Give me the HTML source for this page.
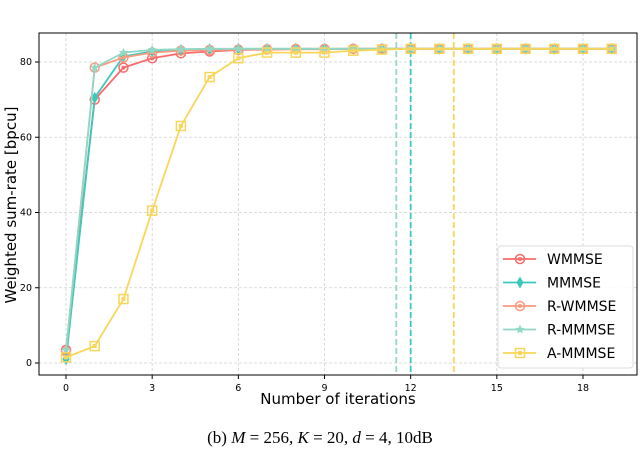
<!DOCTYPE html>
<html><head><meta charset="utf-8"><style>
body{margin:0;background:#fff;width:640px;height:449px;overflow:hidden}
svg text{font-family:"DejaVu Sans","Liberation Sans",sans-serif}
</style></head><body>
<svg id="chart" width="640" height="449" xmlns="http://www.w3.org/2000/svg"></svg>
<script>
const iterations=[0,1,2,3,4,5,6,7,8,9,10,11,12,13,14,15,16,17,18,19];
const wmmse=[3.5,70,78.5,81,82.3,82.8,83.2,83.3,83.4,83.4,83.5,83.5,83.5,83.5,83.5,83.5,83.5,83.5,83.5,83.5];
const mmmse=[1,70.5,81.5,82.8,83.2,83.4,83.5,83.5,83.5,83.5,83.5,83.5,83.5,83.5,83.5,83.5,83.5,83.5,83.5,83.5];
const rwmmse=[3,78.5,81.2,82.5,83,83.2,83.3,83.4,83.5,83.5,83.5,83.5,83.5,83.5,83.5,83.5,83.5,83.5,83.5,83.5];
const rmmmse=[3.5,78.5,82.5,83.2,83.4,83.5,83.5,83.5,83.5,83.5,83.5,83.5,83.5,83.5,83.5,83.5,83.5,83.5,83.5,83.5];
const ammmse=[1.5,4.5,17,40.5,63,76,81,82.5,82.5,82.5,83,83.3,83.5,83.5,83.5,83.5,83.5,83.5,83.5,83.5];
const xTicks=[0,3,6,9,12,15,18];
const yTicks=[0,20,40,60,80];
const vlines=[11.5,12,13.5];
const seriesNames=["WMMSE","MMMSE","R-WMMSE","R-MMMSE","A-MMMSE"];

const svg=document.getElementById('chart');const NS="http://www.w3.org/2000/svg";
const L=39,T=33,R=637,B=375;
const xs=v=>66+v*(583-66)/18;
const ys=v=>363-v*(363-62)/80;
function mk(tag,a,p){const e=document.createElementNS(NS,tag);for(const k in a)e.setAttribute(k,a[k]);(p||svg).appendChild(e);return e;}
xTicks.forEach(t=>{const g=mk('line',{x1:xs(t),x2:xs(t),y1:T,y2:B,stroke:'#d0d0d0','stroke-dasharray':'3,2','stroke-width':0.8});

const tk=mk('line',{x1:xs(t),x2:xs(t),y1:B,y2:B+4,stroke:'#000'});
const tx=mk('text',{x:xs(t),y:B+16,'text-anchor':'middle','font-size':9.5});tx.textContent=t;
});
yTicks.forEach(t=>{const g=mk('line',{x1:L,x2:R,y1:ys(t),y2:ys(t),stroke:'#d0d0d0','stroke-dasharray':'3,2','stroke-width':0.8});

const tk=mk('line',{x1:L-4,x2:L,y1:ys(t),y2:ys(t),stroke:'#000'});
const tx=mk('text',{x:L-7,y:ys(t)+3,'text-anchor':'end','font-size':9.5});tx.textContent=t;
});
const vcol=['#8fd9c6','#3cc9bd','#f9d65a'];
vlines.forEach((v,i)=>{const l=mk('line',{x1:xs(v),x2:xs(v),y1:T,y2:B,stroke:vcol[i],'stroke-width':1.8,'stroke-dasharray':'6,3'});
});
const cols=['#f96b6b','#3cc9bd','#fa9a80','#8fd9c6','#f9d65a'];
const data=[wmmse,mmmse,rwmmse,rmmmse,ammmse];
function marker(i,x,y,p){
 const c=cols[i];
 if(i==0||i==2){mk('circle',{cx:x,cy:y,r:4.5,fill:'none',stroke:c,'stroke-width':1.5},p);mk('circle',{cx:x,cy:y,r:2,fill:c},p);}
 else if(i==1){mk('polygon',{points:`${x},${y-5} ${x+3},${y} ${x},${y+5} ${x-3},${y}`,fill:c,stroke:c},p);}
 else if(i==3){let pts=[];for(let k=0;k<10;k++){const r=k%2?2.2:5,a=-Math.PI/2+k*Math.PI/5;pts.push((x+r*Math.cos(a))+','+(y+r*Math.sin(a)));}mk('polygon',{points:pts.join(' '),fill:c},p);}
 else {mk('rect',{x:x-4.5,y:y-4.5,width:9,height:9,fill:'none',stroke:c,'stroke-width':1.5},p);mk('rect',{x:x-2,y:y-2,width:4,height:4,fill:c},p);}
}
data.forEach((d,i)=>{const g=mk('g',{});
 mk('polyline',{points:d.map((v,j)=>xs(iterations[j])+','+ys(v)).join(' '),fill:'none',stroke:cols[i],'stroke-width':1.8},g);
 d.forEach((v,j)=>marker(i,xs(iterations[j]),ys(v),g));});
const fr=mk('rect',{x:L,y:T,width:R-L,height:B-T,fill:'none',stroke:'#000','stroke-width':1});

const lg=mk('g',{});
mk('rect',{x:498,y:246,width:135,height:122,rx:3,fill:'#fff','fill-opacity':0.85,stroke:'#ddd'},lg);
seriesNames.forEach((n,i)=>{const y=259+i*23.5;const e=mk('g',{},lg);
 mk('line',{x1:503,x2:536,y1:y,y2:y,stroke:cols[i],'stroke-width':1.8},e);marker(i,520,y,e);
 const t=mk('text',{x:547,y:y+5,'font-size':14},e);t.textContent=n;});
const xl=mk('text',{x:338,y:404,'text-anchor':'middle','font-size':15});xl.textContent='Number of iterations';

const yl=mk('text',{x:0,y:0,'text-anchor':'middle','font-size':15,transform:'translate(16,205) rotate(-90)'});yl.textContent='Weighted sum-rate [bpcu]';

const cap=mk('text',{x:320,y:443,'text-anchor':'middle','font-size':17,style:'font-family:"Liberation Serif",serif'});
cap.innerHTML='(b)  <tspan font-style="italic">M</tspan> = 256,  <tspan font-style="italic">K</tspan> = 20,  <tspan font-style="italic">d</tspan> = 4,  10dB';

</script>
</body></html>
